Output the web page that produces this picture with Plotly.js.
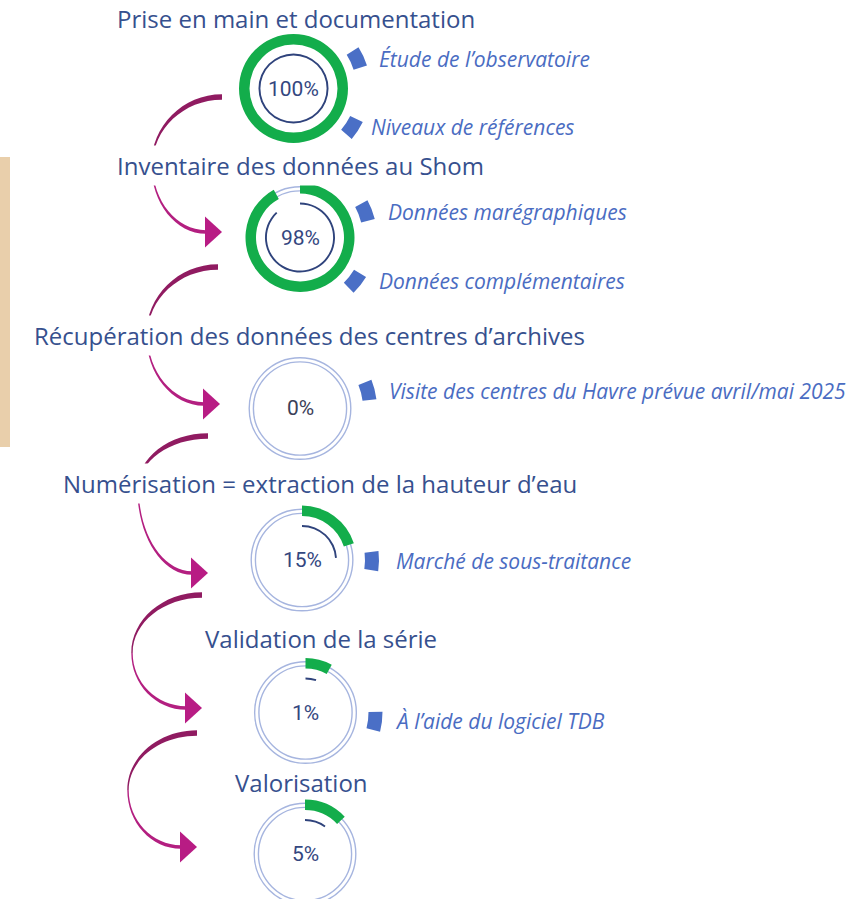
<!DOCTYPE html>
<html><head><meta charset="utf-8">
<script src="https://cdn.plot.ly/plotly-3.0.1.min.js"></script>
<style>
html,body{margin:0;padding:0;background:#fff;}
#wrap{width:864px;height:899px;overflow:hidden;position:relative;}
#chart{width:864px;height:930px;}
</style>
</head><body><div id="wrap"><div id="chart"></div></div>
<script>
// ---------- DATA ----------
const steps = [
  "Prise en main et documentation",
  "Inventaire des données au Shom",
  "Récupération des données des centres d’archives",
  "Numérisation = extraction de la hauteur d’eau",
  "Validation de la série",
  "Valorisation"
];
const progress = [100, 98, 0, 15, 1, 5];          // stated percentage
const arcShown = [100, 92, 0, 20, 8, 13];         // green arc as drawn (% of circle)
const innerArc = [100, 88, 0, 24, 5, 10];         // thin inner arc as drawn (% of circle)
const tasks = [
  ["Étude de l’observatoire", "Niveaux de références"],
  ["Données marégraphiques", "Données complémentaires"],
  ["Visite des centres du Havre prévue avril/mai 2025"],
  ["Marché de sous-traitance"],
  ["À l’aide du logiciel TDB"],
  []
];

// ---------- LAYOUT (pixel positions) ----------
const W = 864, H = 930;
const centers = [[293.5,88.5],[300,237.5],[300,408.5],[302,560],[305.5,712.5],[305,854]];
const titlePos = [[296,19],[300,165],[309,335],[320,483],[321,638],[301,782]];
const titleMask = [false, true, true, true, false, false];
const taskPos = [[[377,59],[369,127]],[[386,212],[377,281]],[[387,391]],[[394,561]],[[393,721]],[]];
const arrowGeo = [
  [[222,97],[152,165],[222,232]],
  [[218,267],[147,335],[220,404]],
  [[208,436],[138,488],[208,573]],
  [[202,595],[132,653],[202,708]],
  [[197,733],[128,790],[197,847]]
];

const GREEN = '#13ad4b', RING = '#a6b5df', DARK = '#2f437c', TAB = '#4a6fc6', NONE = 'rgba(0,0,0,0)';

function dom(cx, cy, R){ return {x:[(cx-R)/W,(cx+R)/W], y:[1-(cy+R)/H, 1-(cy-R)/H]}; }
function pie(cx, cy, R, hole, values, colors, line, rot){
  return {type:'pie', values:values, marker:{colors:colors, line: line || {width:0}},
    hole:hole, domain:dom(cx,cy,R), sort:false, direction:'clockwise', rotation:rot || 0,
    textinfo:'none', hoverinfo:'skip', showlegend:false};
}

const traces = [];
const annotations = [];
const shapes = [];

steps.forEach((s, i) => {
  const [cx, cy] = centers[i];
  // light double ring
  traces.push(pie(cx, cy, 50.8, 46.6/50.8, [1], [NONE], {color:RING, width:1.4}));
  // green progress arc
  traces.push(pie(cx, cy, 54.5, 44/54.5, [arcShown[i], 100-arcShown[i]], [GREEN, NONE]));
  // thin inner arc
  traces.push(pie(cx, cy, 35, 33.1/35, [innerArc[i], 100-innerArc[i]], [DARK, NONE]));
  // tabs + task labels
  tasks[i].forEach((t, j) => {
    const [tx, ty] = taskPos[i][j];
    const c = Math.max(-1, Math.min(1, (cy - ty)/70));
    const a = Math.acos(c) * 180 / Math.PI;
    traces.push(pie(cx, cy, 77, 63/77, [a-7.5, 15, 352.5-a], [NONE, TAB, NONE]));
    annotations.push({x:tx/W, y:1-ty/H, xref:'paper', yref:'paper', xanchor:'left', yanchor:'middle',
      showarrow:false, text:t, font:{family:'Open Sans', size:21, color:'#4a6cc2', style:'italic'}});
  });
  // title
  const ann = {x:titlePos[i][0]/W, y:1-titlePos[i][1]/H, xref:'paper', yref:'paper',
    xanchor:'center', yanchor:'middle', showarrow:false, text:s,
    font:{family:'Open Sans', size:24, color:'#36508e'}};
  if (titleMask[i]) { ann.bgcolor = '#ffffff'; ann.borderpad = 3; }
  annotations.push(ann);
  // percentage
  annotations.push({x:cx/W, y:1-cy/H, xref:'paper', yref:'paper', xanchor:'center', yanchor:'middle',
    showarrow:false, text:progress[i] + '%',
    font:{family:'Roboto', size:21, color: progress[i] === 0 ? '#3b4058' : '#34477f'}});
});

// ---------- decorative arrows ----------
const k = 0.5523;
function P(x, y){ return (x/W).toFixed(5) + ',' + (1-y/H).toFixed(5); }
function arrowShapes(g){
  const [S, L, T] = g;
  const sx=S[0], sy=S[1], lx=L[0], ly=L[1];
  const bx=T[0]-16, by=T[1];
  function topEdge(d0, d1){
    const ys = sy + d0, xl = lx + d1, rx = sx - xl, ry = ly - ys;
    return {s:[sx,ys], c1:[sx-k*rx, ys], c2:[xl, ly-k*ry], e:[xl, ly]};
  }
  function botEdge(d1, d2){
    const xl = lx + d1, yb = by + d2, rx = bx - xl, ry = yb - ly;
    return {s:[xl,ly], c1:[xl, ly+k*ry], c2:[bx-k*rx, yb], e:[bx, yb]};
  }
  function band(o, n){
    return 'M' + P(...o.s) + ' C' + P(...o.c1) + ' ' + P(...o.c2) + ' ' + P(...o.e) +
      ' L' + P(...n.e) + ' C' + P(...n.c2) + ' ' + P(...n.c1) + ' ' + P(...n.s) + ' Z';
  }
  const top = band(topEdge(-2.8, -0.7), topEdge(2.8, 0.7));
  const bot = band(botEdge(-0.7, 1.8), botEdge(0.7, -1.8));
  const head = 'M' + P(bx-1, by-15.5) + ' L' + P(T[0], T[1]) + ' L' + P(bx-1, by+15.5) + ' Z';
  return [
    {type:'path', path:top, xref:'paper', yref:'paper', fillcolor:'#901b61', line:{width:0}, layer:'below'},
    {type:'path', path:bot, xref:'paper', yref:'paper', fillcolor:'#b31f80', line:{width:0}, layer:'below'},
    {type:'path', path:head, xref:'paper', yref:'paper', fillcolor:'#b81c84', line:{width:0}, layer:'below'}
  ];
}
arrowGeo.forEach(g => shapes.push(...arrowShapes(g)));

// beige strip at left edge
shapes.push({type:'rect', xref:'paper', yref:'paper', x0:0, x1:10/W, y0:1-447/H, y1:1-157/H,
  fillcolor:'#e9cfab', line:{width:0}, layer:'below'});

const layout = {
  width:W, height:H, margin:{l:0,r:0,t:0,b:0},
  paper_bgcolor:'#ffffff', plot_bgcolor:'#ffffff',
  showlegend:false, annotations:annotations, shapes:shapes
};
Plotly.newPlot('chart', traces, layout, {staticPlot:true, displayModeBar:false});
</script>
</body></html>
